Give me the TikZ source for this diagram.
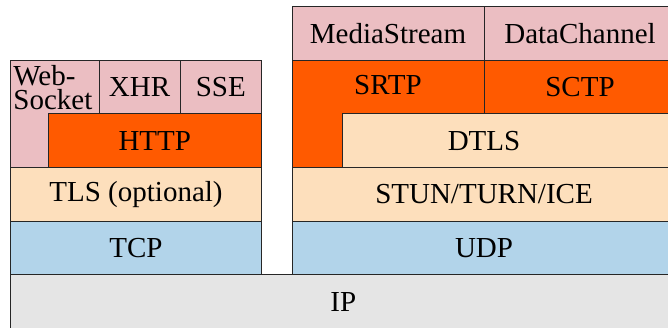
\documentclass[tikz,border=0pt]{standalone}
\usepackage{fontspec}
\newfontfamily\layerfont{LiberationSerif-Regular.ttf}
\usetikzlibrary{positioning}
\definecolor{appPink}{RGB}{235,190,194}
\definecolor{secOrange}{RGB}{255,90,0}
\definecolor{tlsPeach}{RGB}{253,223,188}
\definecolor{transBlue}{RGB}{178,212,234}
\definecolor{ipGrey}{RGB}{229,229,229}

\begin{document}
\begin{tikzpicture}[
    x=0.5pt, y=0.5pt,
    layer/.style={rectangle, draw=black!85, line width=0.5pt, outer sep=0pt, inner sep=0pt, minimum height=26.75pt, font=\layerfont\fontsize{14.5}{17}\selectfont},
    tag/.style={inner sep=0pt, font=\layerfont\fontsize{14.5}{12}\selectfont}
]
\useasboundingbox (0,0) rectangle (668,327);

% network layer
\node[layer, fill=ipGrey, minimum width=332.75pt, minimum height=27.5pt, anchor=north west] (ip) at (10.5,52.5) {IP};

% browser stack
\node[layer, fill=transBlue, minimum width=125.5pt, anchor=south west] (tcp) at (ip.north west) {TCP};
\node[layer, fill=tlsPeach, minimum width=125.5pt, above=0pt of tcp] (tls) {TLS (optional)};
\node[layer, fill=appPink, minimum width=44.25pt, minimum height=53.5pt, anchor=south west] (ws) at (tls.north west) {};
\node[layer, fill=secOrange, minimum width=106.75pt, anchor=south east] (http) at (tls.north east) {HTTP};
\node[layer, fill=appPink, minimum width=40.5pt, anchor=south west] (xhr) at (ws.east |- http.north) {XHR};
\node[layer, fill=appPink, minimum width=40.75pt, right=0pt of xhr] (sse) {SSE};
\node[tag, align=left, anchor=north west] (wstag) at (13,262.5) {Web-\\Socket};

% webrtc stack
\node[layer, fill=transBlue, minimum width=192pt, right=15.25pt of tcp] (udp) {UDP};
\node[layer, fill=tlsPeach, minimum width=192pt, above=0pt of udp] (stun) {STUN/TURN/ICE};
\node[layer, fill=secOrange, minimum width=96pt, minimum height=53.5pt, anchor=south west] (srtp) at (stun.north west) {};
\node[layer, fill=tlsPeach, minimum width=167pt, anchor=south east] (dtls) at (stun.north east) {};
\node[layer, fill=secOrange, minimum width=96pt, anchor=south west] (sctp) at (srtp.east |- dtls.north) {SCTP};
\node[layer, fill=appPink, minimum width=96pt, above=0pt of srtp] (media) {MediaStream};
\node[layer, fill=appPink, minimum width=96pt, above=0pt of sctp] (data) {DataChannel};
\node[tag] (srtptag) at (388,241.5) {SRTP};
\node[tag] (dtlstag) at (stun.center |- dtls.center) {DTLS};

\end{tikzpicture}
\end{document}
